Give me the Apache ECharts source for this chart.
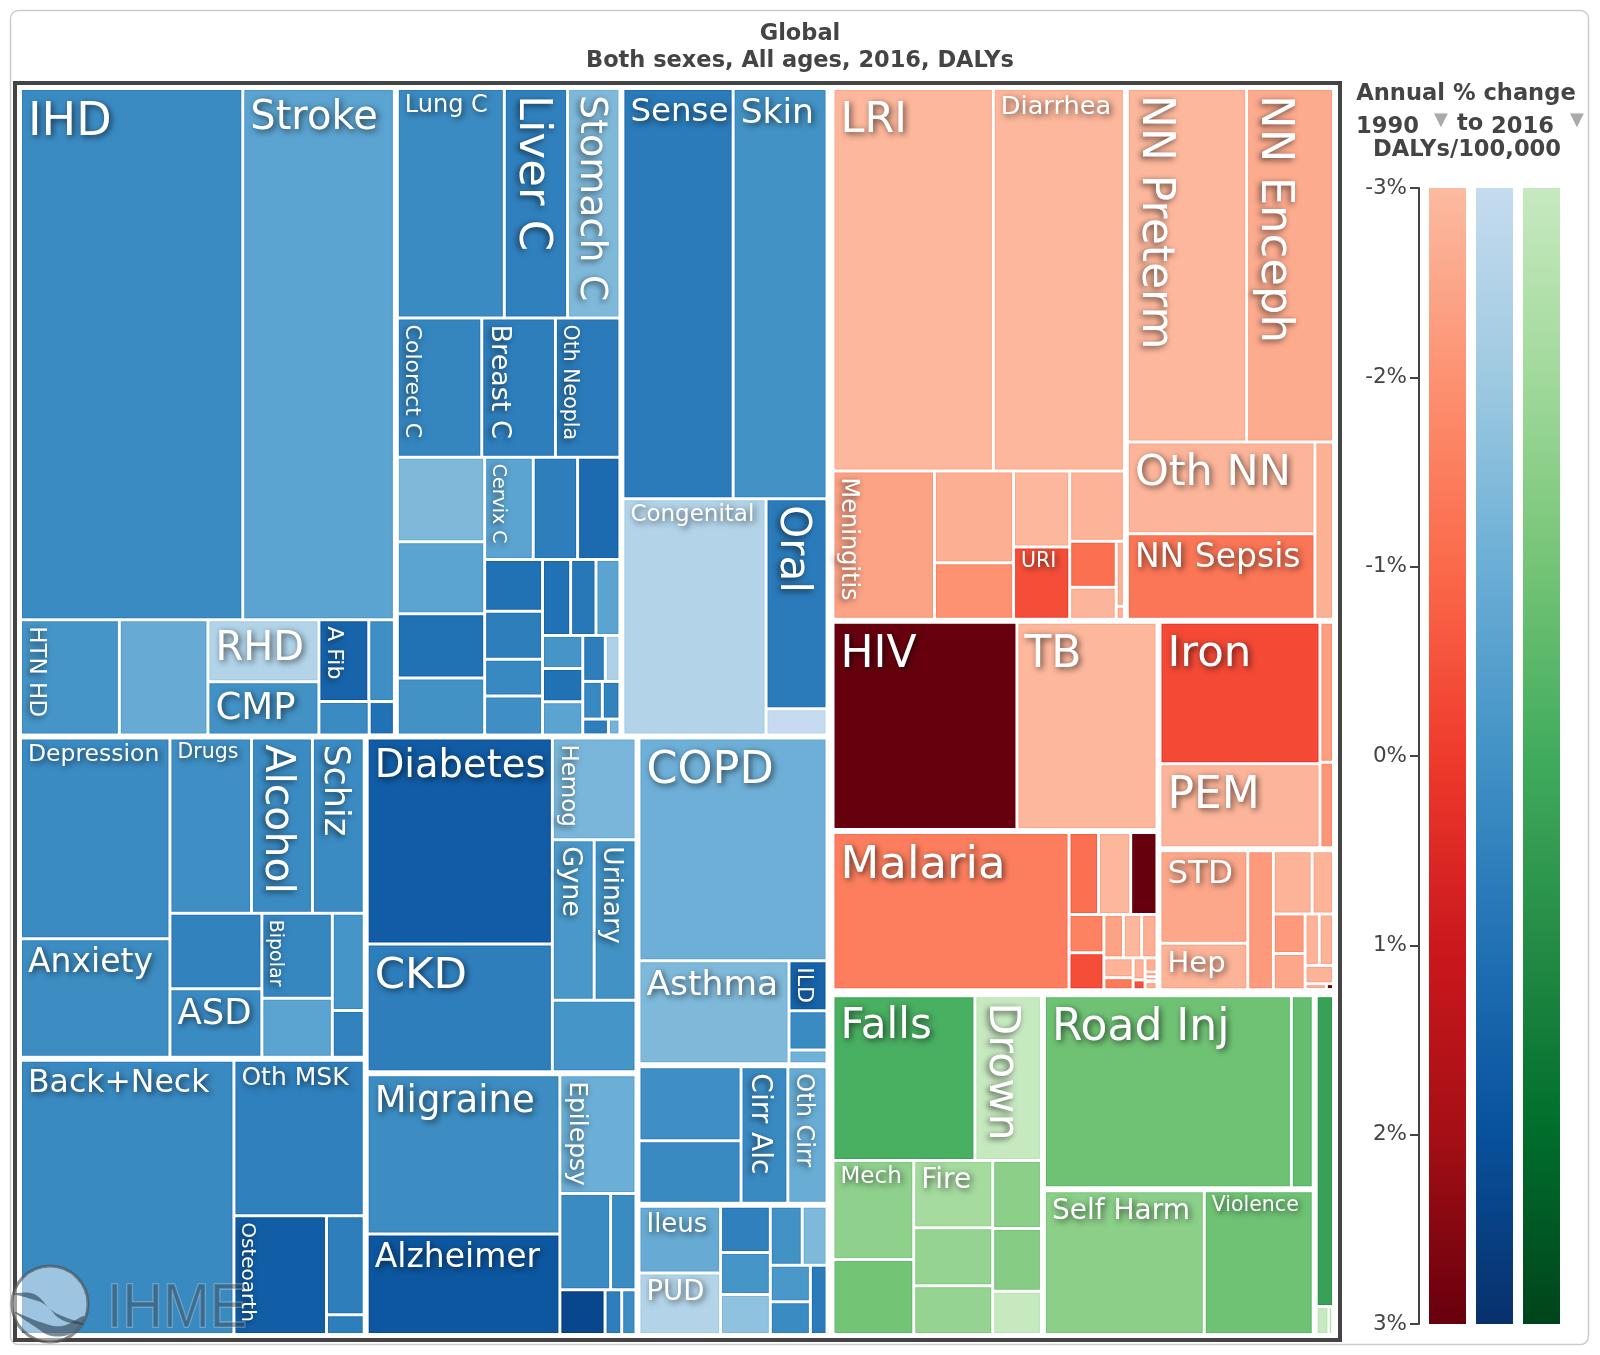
<!DOCTYPE html>
<html>
<head>
<meta charset="utf-8">
<title>Global DALYs 2016</title>
<script src="https://cdn.jsdelivr.net/npm/echarts@6/dist/echarts.min.js"></script>
<style>
  html, body { margin: 0; padding: 0; background: #fff; }
  #chart { width: 1600px; height: 1355px; }
</style>
</head>
<body>
<div id="chart"></div>
<script>
// tile sizes are DALY shares, change is annual % change
const cardioNames = ['IHD', 'Stroke', 'HTN HD', '', 'RHD', 'CMP', 'A Fib', '', '', '']
const cardioDalys = [1100, 750, 106, 95, 64, 55, 38, 19.5, 15.6, 7.8]
const cardioChange = [0.2, -0.6, -0.1, -0.9, -2.5, 0, 1.4, 0.1, 0.2, 1]

const neoNames = ['Lung C', 'Liver C', 'Stomach C', 'Colorect C', 'Breast C', 'Oth Neopla', '', '', '', '', 'Cervix C', '', '', '', '', '', '', '', '', '', '', '', '', '', '', '', '', '', '']
const neoDalys = [230, 136, 112.5, 110, 96, 84, 69, 59, 52.5, 46.5, 46.5, 42.5, 40.5, 28, 26, 20, 21, 20, 18, 17, 12.5, 12.5, 12.5, 9.7, 6.3, 6.9, 6.2, 3.8, 1.7]
const neoChange = [0.2, 0.55, -1.4, 0.4, 0.6, 0.7, -1.4, -0.6, 1, 0, -0.6, 0.6, 1.2, 1, 0.6, 0.3, 0.1, 1, 0.8, -0.6, -0.1, 1, -0.6, 0.6, -2.4, 0.3, 0.5, 0.6, -1.2]

const otherNcdNames = ['Sense', 'Skin', 'Congenital', 'Oral', '']
const otherNcdDalys = [424, 361, 317, 120, 15]
const otherNcdChange = [0.7, 0, -2.5, 0.7, -3]

const mentalNames = ['Depression', 'Anxiety', 'Drugs', 'Alcohol', 'Schiz', '', 'ASD', 'Bipolar', '', '', '']
const mentalDalys = [281, 166, 134, 100, 85, 65, 59, 56, 39, 29, 14]
const mentalChange = [0.2, 0.15, 0.1, 0.2, 0.2, 0.5, 0.2, 0.35, -0.6, -0.1, 0.5]

const mskNames = ['Back+Neck', 'Oth MSK', 'Osteoarth', '', '']
const mskDalys = [549, 190, 103, 35, 7]
const mskChange = [0.25, 0.55, 1.6, 0.6, 0.6]

const diabNames = ['Diabetes', 'CKD', 'Hemog', 'Gyne', 'Urinary', '']
const diabDalys = [358, 222, 80, 63, 63, 56]
const diabChange = [1.65, 0.6, -1.3, -0.2, 0, -0.1]

const neuroNames = ['Migraine', 'Alzheimer', 'Epilepsy', '', '', '', '', '']
const neuroDalys = [289, 182, 85, 46, 23, 19, 7, 6]
const neuroChange = [0.15, 1.8, -1, 0.2, 0.2, 2.3, 0.6, 0.15]

const respNames = ['COPD', 'Asthma', 'ILD', '', '']
const respDalys = [395, 146, 18, 14, 5]
const respChange = [-1.05, -1.4, 1.4, 0.2, -1.1]

const cirrNames = ['', '', 'Cirr Alc', 'Oth Cirr']
const cirrDalys = [72, 61, 61, 51]
const cirrChange = [0.1, 0.25, 0.25, -0.95]

const digestNames = ['Ileus', 'PUD', '', '', '', '', '', '', '', '']
const digestDalys = [52, 48, 22, 20, 19, 18, 14, 14, 12.5, 11]
const digestChange = [-0.9, -2.5, 0.55, -0.1, -1.7, 0, -1.4, -0.2, 0.2, 0.7]

const lriNames = ['LRI', 'Diarrhea', 'Meningitis', '', '', '', 'URI', '', '', '', '', '']
const lriDalys = [575, 470, 141, 68, 42, 40, 38, 36, 20, 14, 5, 1]
const lriChange = [-2.9, -2.9, -2.4, -2.7, -2, -2.9, -0.4, -2.8, -1.15, -2.85, -2.8, -2.8]

const neonatalNames = ['NN Preterm', 'NN Enceph', 'Oth NN', 'NN Sepsis', '']
const neonatalDalys = [397, 289, 162, 151, 31]
const neonatalChange = [-2.9, -2.6, -2.85, -1.3, -2.75]

const hivNames = ['HIV', 'TB']
const hivDalys = [360, 274]
const hivChange = [3, -2.9]

const ntdNames = ['Malaria', '', '', '', '', '', '', '', '', '', '', '', '', '', '', '', '']
const ntdDalys = [352, 23, 25, 20.5, 12.7, 12.2, 8, 7.5, 6.3, 5.5, 3.3, 2.5, 1.1, 1.6, 0.6, 0.5, 0.9]
const ntdChange = [-1.5, -1.15, -2.9, 3, -1.6, -0.4, -2.4, -2.9, -2.7, -2.8, -1.4, -2.8, -0.5, -2.7, -2.7, -2.7, -2.7]

const nutritionNames = ['Iron', 'PEM', '', '']
const nutritionDalys = [215, 128, 18, 11]
const nutritionChange = [-0.3, -2.85, -2.3, -2.1]

const otherCommNames = ['STD', 'Hep', '', '', '', '', '', '', '', '', '', '']
const otherCommDalys = [78, 39, 34, 23.5, 13, 12, 11, 7, 7, 5, 1.2, 0.4]
const otherCommChange = [-2.5, -2.8, -2.2, -2.8, -2.8, -2.2, -2.5, -2.8, -2.8, -2.8, -2.8, 3]

const unintNames = ['Falls', 'Drown', 'Mech', '', 'Fire', '', '', '', '', '']
const unintDalys = [222, 104, 76, 57.5, 50.5, 43.5, 36.5, 31.5, 29, 20]
const unintChange = [-0.15, -3, -1.6, -1, -2.1, -1.7, -1.7, -1.5, -1.4, -3]

const transportNames = ['Road Inj', '', 'Self Harm', 'Violence', '', '', '']
const transportDalys = [452, 40, 220, 150, 59, 3.9, 1.4]
const transportChange = [-0.9, -0.7, -1.5, -0.9, 0.3, -3, -3]

const legendTicks = [-3, -2, -1, 0, 1, 2, 3]
const rampNames = ['Communicable', 'Non-communicable', 'Injuries']

const reds = ['#FCBBA1', '#FC9272', '#FB6A4A', '#EF3B2C', '#CB181D', '#A50F15', '#67000D']
const blues = ['#C6DBEF', '#9ECAE1', '#6BAED6', '#4292C6', '#2171B5', '#08519C', '#08306B']
const greens = ['#C7E9C0', '#A1D99B', '#74C476', '#41AB5D', '#238B45', '#006D2C', '#00441B']

const fontSizes = {
  'IHD': 46, 'Stroke': 40, 'HTN HD': 23, 'RHD': 40, 'CMP': 37, 'A Fib': 22,
  'Lung C': 24, 'Liver C': 45, 'Stomach C': 38, 'Colorect C': 22, 'Breast C': 27, 'Oth Neopla': 20.5, 'Cervix C': 19,
  'Sense': 32.5, 'Skin': 34.5, 'Congenital': 23, 'Oral': 42,
  'Depression': 23.5, 'Anxiety': 33, 'Drugs': 20.5, 'Alcohol': 41, 'Schiz': 35, 'ASD': 35.5, 'Bipolar': 19,
  'Back+Neck': 31.5, 'Oth MSK': 25, 'Osteoarth': 20,
  'Diabetes': 38.5, 'CKD': 43.5, 'Hemog': 23, 'Gyne': 27, 'Urinary': 26.5,
  'Migraine': 37, 'Alzheimer': 33, 'Epilepsy': 25,
  'COPD': 44.5, 'Asthma': 34.5, 'ILD': 22, 'Cirr Alc': 28, 'Oth Cirr': 24, 'Ileus': 26, 'PUD': 27.5,
  'LRI': 43, 'Diarrhea': 25.6, 'Meningitis': 24, 'URI': 20.5,
  'NN Preterm': 44, 'NN Enceph': 45, 'Oth NN': 43, 'NN Sepsis': 33,
  'HIV': 44, 'TB': 44, 'Malaria': 45, 'Iron': 43.5, 'PEM': 44, 'STD': 32.5, 'Hep': 29,
  'Falls': 42, 'Drown': 43, 'Mech': 23, 'Fire': 28, 'Road Inj': 44, 'Self Harm': 28, 'Violence': 20.5
}
const verticalLabels = ['HTN HD', 'A Fib', 'Liver C', 'Stomach C', 'Colorect C', 'Breast C', 'Oth Neopla', 'Cervix C', 'Oral',
  'Alcohol', 'Schiz', 'Bipolar', 'Osteoarth', 'Hemog', 'Gyne', 'Urinary', 'Epilepsy', 'ILD', 'Cirr Alc', 'Oth Cirr',
  'Meningitis', 'NN Preterm', 'NN Enceph', 'Drown']

function tileLabel(name) {
  if (!name) return { show: false }
  const size = fontSizes[name]
  const vertical = verticalLabels.includes(name)
  return {
    show: true,
    color: '#fff',
    fontSize: size,
    lineHeight: size,
    padding: 0,
    overflow: 'none',
    rotate: vertical ? -90 : 0,
    position: vertical ? [size * 1.05, 4] : [5, Math.max(0, size * 0.27 - 3.4)],
    textShadowColor: 'rgba(0,0,0,0.65)',
    textShadowBlur: 6,
    textShadowOffsetX: vertical ? -2 : 2,
    textShadowOffsetY: 2
  }
}

// returns a picker: pick(i) is tile i of that cause group
function tiles(names, values, changes, ramp) {
  return i => ({
    name: names[i],
    value: values[i],
    itemStyle: {
      color: echarts.color.lerp((changes[i] + 3) / 6, ramp),
      borderWidth: 1,
      borderColor: echarts.color.lerp(Math.min(1, (changes[i] + 3.4) / 6), ramp)
    },
    label: tileLabel(names[i])
  })
}

// With a very large squareRatio squarify keeps adding to a row, so:
// flow() lays children side by side along the shorter side,
// cut() closes the row after the first child, a near-zero spacer does that.
const spacer = () => ({ name: '', value: 1e-9, itemStyle: { color: '#fff' }, label: { show: false } })
const flow = (...kids) => ({ name: '', children: kids })
function cut(first, ...rest) {
  return { name: '', children: [first, spacer(), rest.length > 1 ? cut(...rest) : rest[0]] }
}
function gap(width, node) {
  node.itemStyle = { gapWidth: width }
  return node
}

function buildTree() {
  const c = tiles(cardioNames, cardioDalys, cardioChange, blues)
  const cardio = cut(flow(c(0), c(1)),
    cut(c(2), c(3), cut(c(4), c(5)), cut(flow(c(6), c(7)), cut(c(8), c(9)))))

  const n = tiles(neoNames, neoDalys, neoChange, blues)
  const neo = cut(flow(n(0), n(1), n(2)),
    cut(n(3), flow(n(4), n(5))),
    flow(cut(n(6), n(7), n(8), n(9)),
      cut(cut(n(10), flow(n(11), n(12))),
        flow(cut(n(13), n(14), n(15), n(16)),
          cut(cut(n(17), flow(n(18), n(19))),
            flow(cut(n(20), n(21), n(22)),
              cut(flow(n(23), n(24)), flow(n(25), n(26)), cut(n(27), n(28)))))))))

  const o = tiles(otherNcdNames, otherNcdDalys, otherNcdChange, blues)
  const otherNcd = cut(flow(o(0), o(1)), flow(o(2), cut(o(3), o(4))))

  const m = tiles(mentalNames, mentalDalys, mentalChange, blues)
  const mental = cut(cut(m(0), m(1)),
    cut(cut(m(2), flow(m(3), m(4))),
      cut(cut(m(5), m(6)), flow(cut(m(7), m(8)), cut(m(9), m(10))))))

  const k = tiles(mskNames, mskDalys, mskChange, blues)
  const msk = cut(k(0), cut(k(1), cut(k(2), cut(k(3), k(4)))))

  const d = tiles(diabNames, diabDalys, diabChange, blues)
  const diab = flow(cut(d(0), d(1)), cut(d(2), flow(d(3), d(4)), d(5)))

  const u = tiles(neuroNames, neuroDalys, neuroChange, blues)
  const neuro = cut(cut(u(0), u(1)),
    cut(u(2), flow(u(3), u(4)), cut(u(5), flow(u(6), u(7)))))

  const r = tiles(respNames, respDalys, respChange, blues)
  const resp = cut(r(0), cut(r(1), cut(r(2), r(3), r(4))))

  const i = tiles(cirrNames, cirrDalys, cirrChange, blues)
  const cirr = cut(cut(i(0), i(1)), flow(i(2), i(3)))

  const g = tiles(digestNames, digestDalys, digestChange, blues)
  const digest = cut(cut(g(0), g(1)),
    flow(cut(g(2), g(3), g(4)),
      cut(flow(g(5), g(6)), flow(cut(g(7), g(8)), g(9)))))

  const l = tiles(lriNames, lriDalys, lriChange, reds)
  const lri = cut(flow(l(0), l(1)),
    cut(l(2), cut(l(3), l(4)),
      flow(cut(l(5), l(6)),
        cut(l(7), flow(cut(l(8), l(9)), cut(l(10), l(11)))))))

  const b = tiles(neonatalNames, neonatalDalys, neonatalChange, reds)
  const neonatal = cut(flow(b(0), b(1)), cut(flow(b(2), b(3)), b(4)))

  const h = tiles(hivNames, hivDalys, hivChange, reds)
  const hiv = cut(h(0), h(1))

  const t = tiles(ntdNames, ntdDalys, ntdChange, reds)
  const ntd = cut(t(0),
    cut(cut(t(1), flow(t(2), t(3))),
      cut(cut(t(4), t(5)),
        cut(cut(t(6), flow(t(7), t(8))),
          cut(cut(t(9), t(10)), flow(cut(t(11), t(12)), cut(t(13), flow(t(14), t(15)), t(16))))))))

  const p = tiles(nutritionNames, nutritionDalys, nutritionChange, reds)
  const nutrition = flow(cut(p(0), p(1)), cut(p(2), p(3)))

  const s = tiles(otherCommNames, otherCommDalys, otherCommChange, reds)
  const otherComm = cut(cut(s(0), s(1)),
    flow(s(2),
      cut(flow(s(3), s(4)),
        flow(cut(s(5), s(6)),
          cut(flow(s(7), s(8)), flow(s(9), cut(s(10), s(11))))))))

  const f = tiles(unintNames, unintDalys, unintChange, greens)
  const unint = cut(cut(f(0), f(1)),
    cut(cut(f(2), f(3)), flow(cut(f(4), f(5), f(6)), cut(f(7), f(8), f(9)))))

  const w = tiles(transportNames, transportDalys, transportChange, greens)
  const transport = gap(6, flow(
    gap(6, cut(cut(w(0), w(1)), cut(w(2), w(3)))),
    cut(w(4), flow(w(5), w(6)))))

  const blue = gap(6, cut(
    gap(6, cut(cardio, gap(6, flow(neo, otherNcd)))),
    gap(6, cut(
      gap(6, cut(mental, msk)),
      gap(6, flow(
        gap(6, cut(diab, neuro)),
        gap(6, cut(resp, gap(6, cut(cirr, digest))))))))))
  const red = gap(6, cut(
    gap(6, flow(lri, neonatal)),
    gap(6, cut(
      gap(6, cut(hiv, ntd)),
      gap(6, cut(nutrition, otherComm))))))
  const green = gap(6, cut(unint, transport))

  return [blue, spacer(), gap(9, cut(red, green))]
}

const chart = echarts.init(document.getElementById('chart'))

const frameGraphics = [
  { type: 'rect', z: 0, shape: { x: 10.5, y: 10.5, width: 1578, height: 1334, r: 8 },
    style: { fill: 'none', stroke: '#ccc', lineWidth: 1.5 } },
  { type: 'rect', z: 0, shape: { x: 15, y: 83, width: 1325, height: 1257 },
    style: { fill: 'none', stroke: '#444', lineWidth: 4 } }
]
const legendFont = 'bold 22.6px "DejaVu Sans"'
const legendGraphics = [
  ['Annual % change', 1466, 94, 'center'],
  ['1990', 1356, 127, 'left'],
  ['to', 1457, 124, 'left'],
  ['2016', 1491, 127, 'left'],
  ['DALYs/100,000', 1467, 150, 'center']
].map(([text, x, y, align]) => ({
  type: 'text', x, y, z: 5,
  style: { text, font: legendFont, fill: '#444', align, verticalAlign: 'middle' }
}))
const arrowGraphics = [1441, 1577].map(x => ({
  type: 'text', x, y: 120, z: 5,
  style: { text: '▼', font: '18px "DejaVu Sans"', fill: '#aaa', align: 'center', verticalAlign: 'middle' }
}))
const logoGraphics = [
  { type: 'circle', z: 100, shape: { cx: 50, cy: 1304, r: 38 },
    style: { fill: 'rgba(255,255,255,0.5)', stroke: 'rgba(80,80,80,0.65)', lineWidth: 3 } },
  { type: 'polygon', z: 101, shape: { smooth: 0.4, points: [[14, 1294], [34, 1294], [54, 1312], [84, 1324], [62, 1320], [44, 1304], [28, 1298]] },
    style: { fill: 'rgba(40,60,80,0.6)' } },
  { type: 'polygon', z: 101, shape: { smooth: 0.4, points: [[15, 1312], [40, 1322], [62, 1326], [84, 1316], [74, 1332], [52, 1336], [34, 1326]] },
    style: { fill: 'rgba(40,60,80,0.6)' } },
  { type: 'text', z: 101, x: 107, y: 1310, scaleY: 1.12,
    style: { text: 'IHME', font: '56px "Liberation Sans"', fill: 'rgba(60,70,80,0.45)', stroke: 'rgba(255,255,255,0.3)', lineWidth: 1.5, align: 'left', verticalAlign: 'middle' } }
]

chart.setOption({
  animation: false,
  backgroundColor: '#fff',
  textStyle: { fontFamily: '"DejaVu Sans"' },
  title: {
    text: 'Global\nBoth sexes, All ages, 2016, DALYs',
    left: 795, top: 16, textAlign: 'center',
    textStyle: { fontFamily: '"DejaVu Sans"', fontSize: 22.5, fontWeight: 'bold', color: '#444', lineHeight: 27 }
  },
  grid: { left: 1424, top: 188, width: 141, height: 1136 },
  xAxis: { type: 'category', data: rampNames, show: false },
  yAxis: {
    type: 'value', inverse: true, min: legendTicks[0], max: legendTicks[legendTicks.length - 1], interval: 1, offset: 5,
    splitLine: { show: false },
    axisLine: { show: true, lineStyle: { color: '#444', width: 2 } },
    axisTick: { show: true, length: 9, lineStyle: { color: '#444', width: 2 } },
    axisLabel: { formatter: '{value}%', fontSize: 21.5, color: '#444', margin: 12 }
  },
  graphic: { elements: [...frameGraphics, ...legendGraphics, ...arrowGraphics, ...logoGraphics] },
  series: [
    {
      type: 'treemap',
      left: 22, top: 90, width: 1310, height: 1243,
      squareRatio: 100,
      sort: false,
      roam: false,
      nodeClick: false,
      silent: true,
      breadcrumb: { show: false },
      levels: [{ itemStyle: { gapWidth: 9, borderWidth: 0 } }],
      itemStyle: { gapWidth: 3, borderWidth: 0, borderColor: '#fff' },
      data: buildTree()
    },
    {
      type: 'custom',
      silent: true,
      clip: false,
      encode: { x: 0, y: [1, 2] },
      data: rampNames.map((n, i) => [i, legendTicks[0], legendTicks[legendTicks.length - 1]]),
      renderItem(params, api) {
        const top = api.coord([api.value(0), api.value(1)])
        const bottom = api.coord([api.value(0), api.value(2)])
        const width = api.size([1, 0])[0] * 0.787
        const ramp = [reds, blues, greens][api.value(0)]
        return {
          type: 'rect',
          shape: { x: top[0] - width / 2, y: top[1], width, height: bottom[1] - top[1] },
          style: {
            fill: new echarts.graphic.LinearGradient(0, 0, 0, 1,
              ramp.map((color, i) => ({ offset: i / (ramp.length - 1), color })))
          }
        }
      }
    }
  ]
})
</script>
</body>
</html>
